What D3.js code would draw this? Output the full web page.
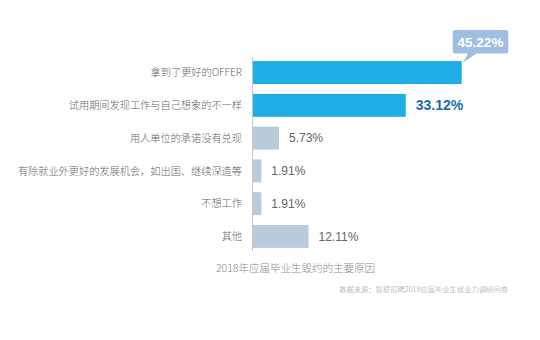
<!DOCTYPE html>
<html><head><meta charset="utf-8">
<script src="https://cdn.jsdelivr.net/npm/d3@7"></script>
<style>body{margin:0;background:#fff}svg{display:block}</style>
</head><body>
<svg id="c" width="540" height="340"></svg>
<script>
const categories = ["拿到了更好的OFFER","试用期间发现工作与自己想象的不一样","用人单位的承诺没有兑现","有除就业外更好的发展机会，如出国、继续深造等","不想工作","其他"];
const values = [45.22, 33.12, 5.73, 1.91, 1.91, 12.11];
const valueLabels = ["45.22%","33.12%","5.73%","1.91%","1.91%","12.11%"];
const title = "2018年应届毕业生毁约的主要原因";
const source = "数据来源：智联招聘2018应届毕业生就业力调研问卷";

const svg = d3.select("#c");
const font = "'Noto Sans CJK SC', 'Liberation Sans', Arial, sans-serif";
const numFont = "'Liberation Sans', Arial, sans-serif";
const x0 = 252.5;
const x = d3.scaleLinear().domain([0, 45.22]).range([x0, 461.7]);
const y = d3.scaleBand().domain(categories).range([56.2, 252.8]).paddingInner(0.3).paddingOuter(0.15);

const hi = "#1eaee6", lo = "#b9cadc";

svg.selectAll("rect.bar").data(values).join("rect")
  .attr("class","bar")
  .attr("x", x0)
  .attr("y", (d,i)=>y(categories[i]))
  .attr("width", d=>x(d)-x0)
  .attr("height", y.bandwidth())
  .attr("fill", (d,i)=> i<2 ? hi : lo);

// axis line
svg.append("line").attr("x1",x0).attr("x2",x0).attr("y1",57).attr("y2",251)
  .attr("stroke","#c8c8c8").attr("stroke-width",1);

// category labels
svg.selectAll("text.cat").data(categories).join("text")
  .attr("class","cat")
  .attr("x", 242).attr("y", d=>y(d)+y.bandwidth()/2)
  .attr("dy","0.36em").attr("text-anchor","end")
  .attr("font-family",font).attr("font-weight",300).attr("font-size",10.2).attr("fill","#666")
  .text(d=>d);

// value labels
values.forEach((v,i)=>{
  const cy = y(categories[i]) + y.bandwidth()/2;
  if(i===0){
    const bx = x(v);
    const g = svg.append("g");
    const L=452.7, R=508.3, T=30, B=53.5, r=2.5;
    const tip=[bx+1.5, cy-13];
    g.append("path").attr("fill","#9fbee0")
      .attr("d",`M${L+r},${T} H${R-r} Q${R},${T} ${R},${T+r} V${B-r} Q${R},${B} ${R-r},${B} H${476.5} L${tip[0]},${tip[1]+3} L${468},${B} H${L+r} Q${L},${B} ${L},${B-r} V${T+r} Q${L},${T} ${L+r},${T} Z`);
    g.append("text").attr("x",(L+R)/2).attr("y",(T+B)/2).attr("dy","0.36em")
      .attr("text-anchor","middle").attr("font-family",numFont).attr("font-weight","bold")
      .attr("font-size",13.5).attr("fill","#fff").text(valueLabels[i]);
  } else if(i===1){
    svg.append("text").attr("x", x(v)+10).attr("y", cy).attr("dy","0.36em")
      .attr("font-family",numFont).attr("font-weight","bold").attr("font-size",14)
      .attr("fill","#1a6db3").text(valueLabels[i]);
  } else {
    svg.append("text").attr("x", x(v)+10).attr("y", cy).attr("dy","0.36em")
      .attr("font-family",numFont).attr("font-size",12)
      .attr("fill","#666").text(valueLabels[i]);
  }
});

svg.append("text").attr("x",216).attr("y",268).attr("dy","0.36em")
  .attr("font-family",font).attr("font-weight",300).attr("font-size",10.5).attr("fill","#8a8a8a").text(title);
svg.append("text").attr("x",508).attr("y",289).attr("dy","0.36em").attr("text-anchor","end")
  .attr("font-family",font).attr("font-weight",300).attr("font-size",7.3).attr("fill","#999").text(source);
</script>
</body></html>
